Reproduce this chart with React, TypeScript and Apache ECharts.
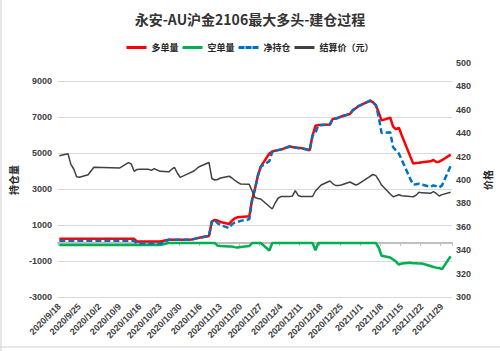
import React, { useEffect, useRef } from "react";
import * as echarts from "echarts";

const titleText = "永安-AU沪金2106最大多头-建仓过程";
const seriesNames = ["多单量", "空单量", "净持仓", "结算价（元）"];

const tradeDates = [
  "2020/9/18", "2020/9/21", "2020/9/22", "2020/9/23", "2020/9/24", "2020/9/25", "2020/9/28", "2020/9/29", "2020/9/30",
  "2020/10/9", "2020/10/12", "2020/10/13", "2020/10/14", "2020/10/15", "2020/10/16", "2020/10/19", "2020/10/20", "2020/10/21", "2020/10/22", "2020/10/23", "2020/10/26", "2020/10/27", "2020/10/28", "2020/10/29", "2020/10/30",
  "2020/11/2", "2020/11/3", "2020/11/4", "2020/11/5", "2020/11/6", "2020/11/9", "2020/11/10", "2020/11/11", "2020/11/12", "2020/11/13", "2020/11/16", "2020/11/17", "2020/11/18", "2020/11/19", "2020/11/20", "2020/11/23", "2020/11/24", "2020/11/25", "2020/11/26", "2020/11/27", "2020/11/30",
  "2020/12/1", "2020/12/2", "2020/12/3", "2020/12/4", "2020/12/7", "2020/12/8", "2020/12/9", "2020/12/10", "2020/12/11", "2020/12/14", "2020/12/15", "2020/12/16", "2020/12/17", "2020/12/18", "2020/12/21", "2020/12/22", "2020/12/23", "2020/12/24", "2020/12/25", "2020/12/28", "2020/12/29", "2020/12/30", "2020/12/31",
  "2021/1/4", "2021/1/5", "2021/1/6", "2021/1/7", "2021/1/8", "2021/1/11", "2021/1/12", "2021/1/13", "2021/1/14", "2021/1/15", "2021/1/18", "2021/1/19", "2021/1/20", "2021/1/21", "2021/1/22", "2021/1/25", "2021/1/26", "2021/1/27", "2021/1/28", "2021/1/29",
  "2021/2/1",
];

const longPos = [
  230, 230, 230, 230, 230, 230, 230, 230, 230,
  230, 230, 230, 230, 80, 80, 80, 80, 80, 80, 80, 180, 180, 180, 180, 180,
  184, 190, 230, 270, 300, 390, 1190, 1280, 1250, 1170, 1060, 1240, 1370, 1430, 1450, 1490, 2400, 3010, 3740, 4240, 4970,
  5080, 5130, 5160, 5190, 5360, 5330, 5300, 5280, 5280, 5150, 5970, 6510, 6550, 6550, 6580, 6890, 6920, 6960, 7030, 7170, 7380, 7480, 7610,
  7910, 7810, 7660, 7250, 6810, 6960, 6470, 6320, 6400, 5990, 4800, 4410, 4440, 4460, 4490, 4540, 4610, 4500, 4520, 4600,
  4910,
];

const shortPos = [
  -110, -110, -110, -110, -110, -110, -110, -110, -110,
  -110, -110, -110, -110, -110, -110, -110, -110, -110, -110, -110, 0, 0, 0, 0, 0,
  0, 0, 0, 0, 0, 0, 0, 0, -150, -170, -190, -200, -230, -250, -220, -170, 0, 0, 0, 0, -420,
  0, 0, 0, 0, 0, 0, 0, 0, 0, 0, 0, -400, 0, 0, 0, 0, 0, 0, 0, 0, 0, 0, 0,
  0, 0, 0, -250, -710, -810, -920, -1030, -1200, -1140, -1100, -1120, -1120, -1140, -1140, -1280, -1330, -1370, -1390, -1450,
  -740,
];

const netPos = [
  120, 120, 120, 120, 120, 120, 120, 120, 120,
  120, 120, 120, 120, -30, -30, -30, -30, -30, -30, -30, 180, 180, 180, 180, 180,
  184, 190, 230, 270, 300, 390, 1190, 1280, 1100, 1000, 830, 1040, 1140, 1180, 1230, 1320, 2400, 3010, 3740, 4240, 4550,
  5080, 5130, 5160, 5190, 5360, 5330, 5300, 5280, 5280, 5150, 5970, 6110, 6550, 6550, 6580, 6890, 6920, 6960, 7030, 7170, 7380, 7480, 7610,
  7910, 7810, 7660, 7000, 6110, 6150, 5320, 5150, 4970, 4620, 3550, 3240, 3260, 3290, 3240, 3120, 3200, 3150, 3090, 3200,
  4280,
];

const settlePrice = [
  420.8, 422.5, 413.4, 409.4, 402.8, 402.3, 404.5, 407.7, 410.9,
  410.3, 414.8, 413.7, 407.4, 409.0, 409.1, 409.1, 408.3, 409.7, 408.5, 407.4, 407.0, 409.0, 410.8, 406.0, 402.3,
  405.7, 406.8, 408.1, 410.3, 411.8, 415.0, 401.3, 400.0, 400.4, 401.7, 403.2, 401.7, 399.6, 397.9, 396.6, 396.3, 390.6, 385.0, 384.2, 383.8, 377.4,
  375.2, 380.3, 384.4, 385.8, 385.8, 386.3, 390.9, 386.8, 385.9, 385.9, 385.9, 390.6, 393.2, 395.7, 399.1, 397.0, 395.3, 395.3, 395.7, 398.3, 397.0, 395.7, 396.6,
  403.2, 404.7, 403.7, 400.0, 395.7, 388.0, 385.7, 386.5, 387.4, 386.5, 385.8, 385.7, 387.0, 389.5, 389.0, 388.6, 390.0, 388.5, 386.3, 387.5,
  389.5,
];

function buildCalendar(first: string, last: string): string[] {
  const parse = (s: string) => {
    const [y, m, d] = s.split("/").map(Number);
    return Date.UTC(y, m - 1, d);
  };
  const out: string[] = [];
  const end = parse(last);
  for (let t = parse(first); t <= end; t += 86400000) {
    const dt = new Date(t);
    out.push(`${dt.getUTCFullYear()}/${dt.getUTCMonth() + 1}/${dt.getUTCDate()}`);
  }
  return out;
}

const DASH_ICON = "path://M0,0h6v3h-6z M7,0h6v3h-6z M14,0h6v3h-6z";

export default function App() {
  const ref = useRef<HTMLDivElement>(null);
  useEffect(() => {
    if (!ref.current) return;
    const chart = echarts.init(ref.current, null, { renderer: "svg" });
    const calendar = buildCalendar(tradeDates[0], tradeDates[tradeDates.length - 1]);
    const idx: Record<string, number> = {};
    tradeDates.forEach((d, i) => (idx[d] = i));
    const toCal = (arr: number[]) => calendar.map((d) => (d in idx ? arr[idx[d]] : null));

    const labelStyle = { fontSize: 9, fontWeight: "bold" as const, color: "#404040", fontFamily: "Arial, 'Liberation Sans', sans-serif" };
    const nameStyle = { fontSize: 10, fontWeight: "bold" as const, color: "#262626", fontFamily: "'Noto Sans CJK SC', sans-serif" };

    chart.setOption({
      animation: false,
      backgroundColor: "#ffffff",
      title: {
        text: titleText,
        left: "center",
        top: 7,
        textStyle: { fontSize: 14, fontWeight: "bold", color: "#333333", fontFamily: "'Noto Sans CJK SC', sans-serif" },
      },
      legend: {
        top: 38,
        left: "center",
        itemWidth: 20,
        itemHeight: 3,
        itemGap: 4,
        textStyle: { fontSize: 9, fontWeight: "bold", color: "#262626", fontFamily: "'Noto Sans CJK SC', sans-serif" },
        data: [
          { name: seriesNames[0], icon: "rect" },
          { name: seriesNames[1], icon: "rect" },
          { name: seriesNames[2], icon: DASH_ICON },
          { name: seriesNames[3], icon: "rect", itemStyle: { color: "#404040" } },
        ],
      },
      grid: { left: 40, right: 38, top: 63, bottom: 54 },
      xAxis: [
        {
          type: "category",
          data: calendar,
          boundaryGap: true,
          position: "bottom",
          axisLine: { show: false, onZero: false },
          axisTick: { show: false },
          axisLabel: { ...labelStyle, interval: 6, rotate: 45, margin: 8 },
          splitLine: { show: false },
        },
        {
          type: "category",
          data: calendar,
          boundaryGap: true,
          position: "top",
          axisLine: { show: true, onZero: true, onZeroAxisIndex: 0, lineStyle: { color: "#bfbfbf", width: 2 } },
          axisTick: { show: true, interval: 6, inside: true, length: 3, lineStyle: { color: "#bfbfbf", width: 1 } },
          axisLabel: { show: false },
          splitLine: { show: false },
        },
      ],
      yAxis: [
        {
          type: "value",
          min: -3000,
          max: 10000,
          interval: 2000,
          name: "持仓量",
          nameLocation: "middle",
          nameRotate: 90,
          nameGap: 24,
          nameTextStyle: nameStyle,
          axisLine: { show: false },
          axisTick: { show: false },
          axisLabel: { ...labelStyle, margin: 6, showMaxLabel: false, formatter: (v: number) => String(v) },
          splitLine: { show: true, showMaxLine: false, lineStyle: { color: "#d9d9d9", width: 1 } },
        },
        {
          type: "value",
          min: 300,
          max: 500,
          interval: 20,
          position: "right",
          name: "价格",
          nameLocation: "middle",
          nameRotate: 90,
          nameGap: 28,
          nameTextStyle: nameStyle,
          axisLine: { show: false },
          axisTick: { show: false },
          axisLabel: { ...labelStyle, margin: 4, formatter: (v: number) => String(v) },
          splitLine: { show: false },
        },
      ],
      series: [
        {
          name: seriesNames[0],
          type: "line",
          xAxisIndex: 0,
          yAxisIndex: 0,
          data: toCal(longPos),
          connectNulls: true,
          symbol: "none",
          lineStyle: { color: "#ff0000", width: 2.5 },
          itemStyle: { color: "#ff0000" },
        },
        {
          name: seriesNames[1],
          type: "line",
          xAxisIndex: 0,
          yAxisIndex: 0,
          data: toCal(shortPos),
          connectNulls: true,
          symbol: "none",
          lineStyle: { color: "#00b050", width: 2.5 },
          itemStyle: { color: "#00b050" },
        },
        {
          name: seriesNames[2],
          type: "line",
          xAxisIndex: 0,
          yAxisIndex: 0,
          data: toCal(netPos),
          connectNulls: true,
          symbol: "none",
          lineStyle: { color: "#0070c0", width: 2.5, type: [6, 3] },
          itemStyle: { color: "#0070c0" },
        },
        {
          name: seriesNames[3],
          type: "line",
          xAxisIndex: 0,
          yAxisIndex: 1,
          data: toCal(settlePrice),
          connectNulls: true,
          symbol: "none",
          lineStyle: { color: "#404040", width: 1.5 },
          itemStyle: { color: "#404040" },
        },
      ],
      graphic: [
        { type: "line", shape: { x1: 1, y1: 0, x2: 1, y2: 351 }, style: { stroke: "#d0d0d0", lineWidth: 1 } },
        { type: "line", shape: { x1: 0, y1: 347, x2: 500, y2: 347 }, style: { stroke: "#d0d0d0", lineWidth: 1 } },
      ],
    });
    return () => chart.dispose();
  }, []);
  return <div ref={ref} style={{ position: "fixed", left: 0, top: 0, width: 500, height: 351 }} />;
}
